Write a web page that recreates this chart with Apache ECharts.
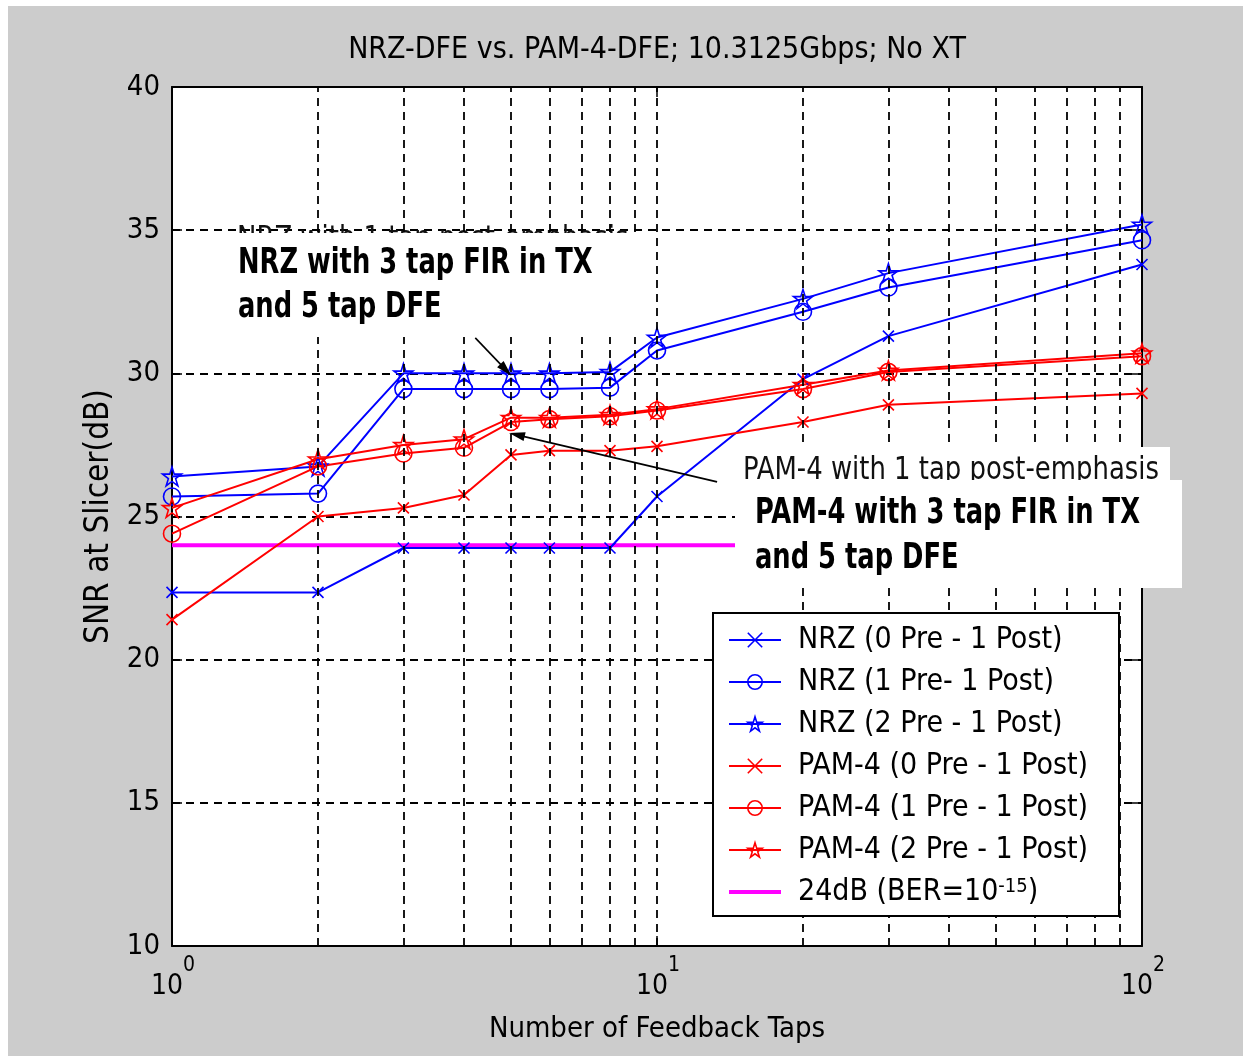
<!DOCTYPE html>
<html><head><meta charset="utf-8">
<script src="https://cdn.jsdelivr.net/npm/echarts@6/dist/echarts.min.js"></script>
<style>
html,body{margin:0;padding:0;background:#fff;}
#bg{position:absolute;left:8px;top:6px;width:1235px;height:1050px;background:#cccccc;}
#chart{position:absolute;left:0;top:0;width:1243px;height:1056px;}
</style></head><body>
<div id="bg"></div><div id="chart"></div>
<script>
// ---- data ----
const taps = [1, 2, 3, 4, 5, 6, 8, 10, 20, 30, 100];
const nrz0 = [22.35, 22.35, 23.9, 23.9, 23.9, 23.9, 23.9, 25.7, 29.8, 31.3, 33.8];
const nrz1 = [25.7, 25.8, 29.45, 29.45, 29.45, 29.45, 29.5, 30.8, 32.15, 33.0, 34.65];
const nrz2 = [26.4, 26.75, 30.0, 30.0, 30.0, 30.0, 30.05, 31.25, 32.6, 33.5, 35.2];
const pam0 = [21.4, 25.0, 25.3, 25.75, 27.15, 27.3, 27.3, 27.45, 28.3, 28.9, 29.3];
const pam1 = [24.4, 26.75, 27.2, 27.4, 28.3, 28.4, 28.5, 28.7, 29.45, 30.05, 30.6];
const pam2 = [25.3, 27.0, 27.5, 27.7, 28.45, 28.45, 28.55, 28.75, 29.6, 30.1, 30.7];
const berX = [1, 100];
const berY = [24, 24];
const seriesNames = ['NRZ (0 Pre - 1 Post)', 'NRZ (1 Pre- 1 Post)', 'NRZ (2 Pre - 1 Post)',
  'PAM-4 (0 Pre - 1 Post)', 'PAM-4 (1 Pre - 1 Post)', 'PAM-4 (2 Pre - 1 Post)', '24dB (BER=10-15)'];
const yTicks = [10, 15, 20, 25, 30, 35, 40];
const xTickBase = '10';
const xTickExponents = [0, 1, 2];
const xGridLines = [2, 3, 4, 5, 6, 7, 8, 9, 10, 20, 30, 40, 50, 60, 70, 80, 90];
const titleText = 'NRZ-DFE vs. PAM-4-DFE; 10.3125Gbps; No XT';
const xName = 'Number of Feedback Taps';
const yName = 'SNR at Slicer(dB)';
// annotation arrows in data coordinates [from, to]
const arrowNRZ = [[4.22, 31.24], [4.88, 30.12]];
const arrowPAM = [[13.3, 26.21], [5.14, 27.85]];

// ---- styles ----
const FONT = '"DejaVu Sans Condensed", "Liberation Sans Narrow", sans-serif';
const BLUE = '#0000ff', RED = '#ff0000', MAG = '#ff00ff';
const SYM_X = 'path://M0,0L10,10M0,10L10,0';
const SYM_STAR = 'path://M10,0L12.245,6.910L19.511,6.910L13.633,11.180L15.878,18.090L10,13.82L4.122,18.090L6.367,11.180L0.489,6.910L7.755,6.910Z';

function mk(name, ys, color, symbol, size) {
  return {
    name, type: 'line', data: taps.map((x, i) => [x, ys[i]]),
    symbol, symbolSize: size, clip: false, z: 3,
    lineStyle: { color, width: 2 },
    itemStyle: { color: 'rgba(0,0,0,0)', borderColor: color, borderWidth: 1.6 },
    emphasis: { disabled: true }
  };
}

const chart = echarts.init(document.getElementById('chart'));
const yMin = yTicks[0], yMax = yTicks[yTicks.length - 1], yStep = yTicks[1] - yTicks[0];
const xMin = Math.pow(10, xTickExponents[0]), xMax = Math.pow(10, xTickExponents[xTickExponents.length - 1]);
const gridDash = { color: '#000', type: [8, 6], width: 1.8 };
const frame = { show: true, lineStyle: { color: '#000', width: 2 } };
const tick = { show: true, inside: true, length: 10, lineStyle: { color: '#000', width: 1.5 } };

const option = {
  animation: false,
  title: {
    text: titleText, left: 657, top: 35, padding: 0, textAlign: 'center',
    textStyle: { fontFamily: FONT, fontSize: 30, fontWeight: 'normal', color: '#000' }
  },
  grid: { left: 172, top: 87, width: 970, height: 859, show: true, backgroundColor: '#fff', borderWidth: 0 },
  xAxis: [{
    type: 'log', logBase: 10, min: xMin, max: xMax,
    name: xName, nameLocation: 'middle', nameGap: 69,
    nameTextStyle: { fontFamily: FONT, fontSize: 29, color: '#000' },
    axisLine: frame, axisTick: tick, splitLine: { show: false },
    axisLabel: { margin: 27, padding: [0, 10, 0, 0], fontFamily: FONT, fontSize: 28, color: '#000', formatter: () => xTickBase }
  }, {
    type: 'log', logBase: 10, min: xMin, max: xMax, position: 'top',
    axisLine: frame, axisTick: tick, axisLabel: { show: false }, splitLine: { show: false }
  }, {
    type: 'log', logBase: 10, min: xMin, max: xMax, position: 'bottom',
    axisLine: { show: false }, axisTick: { show: false }, splitLine: { show: false },
    axisLabel: {
      margin: 9, align: 'left', padding: [0, 0, 0, 11], fontFamily: FONT, fontSize: 21, color: '#000',
      formatter: v => String(xTickExponents[xTickExponents.indexOf(Math.round(Math.log10(v)))])
    }
  }],
  yAxis: [{
    type: 'value', min: yMin, max: yMax, interval: yStep,
    name: yName, nameLocation: 'middle', nameGap: 53, nameRotate: 90,
    nameTextStyle: { fontFamily: FONT, fontSize: 33, color: '#000' },
    axisLine: frame, axisTick: tick,
    splitLine: { show: true, lineStyle: gridDash },
    axisLabel: { margin: 12, fontFamily: FONT, fontSize: 29, color: '#000' }
  }, {
    type: 'value', min: yMin, max: yMax, interval: yStep, position: 'right',
    axisLine: frame, axisTick: tick, axisLabel: { show: false }, splitLine: { show: false }
  }],
  legend: {
    orient: 'vertical', left: 728, top: 625, padding: 0, z: 10,
    itemWidth: 52, itemHeight: 18, itemGap: 12, selectedMode: false,
    lineStyle: { width: 2 },
    itemStyle: { borderWidth: 1.6 },
    textStyle: {
      fontFamily: FONT, fontSize: 30, color: '#000', lineHeight: 30, padding: [0, 0, 0, 12],
      rich: { sup: { fontFamily: FONT, fontSize: 20, color: '#000', lineHeight: 16, verticalAlign: 'top', padding: [0, 0, 12, 0] } }
    },
    formatter: n => n === seriesNames[6] ? '24dB (BER=10{sup|-15})' : n,
    data: seriesNames.slice(0, 6).map(n => ({ name: n })).concat([{
      name: seriesNames[6], icon: 'path://M0,0L52,0L52,4L0,4Z',
      itemStyle: { color: MAG, borderWidth: 0 }
    }])
  },
  series: [
    {
      type: 'line', data: [], z: 1, silent: true,
      markLine: {
        silent: true, symbol: 'none', label: { show: false }, animation: false,
        lineStyle: gridDash, emphasis: { disabled: true },
        data: xGridLines.map(v => ({ xAxis: v }))
      }
    },
    {
      name: seriesNames[6], type: 'line', data: berX.map((x, i) => [x, berY[i]]),
      symbol: 'none', z: 3, lineStyle: { color: MAG, width: 4 }, itemStyle: { color: MAG },
      emphasis: { disabled: true }
    },
    mk(seriesNames[0], nrz0, BLUE, SYM_X, 11),
    mk(seriesNames[1], nrz1, BLUE, 'circle', 17),
    mk(seriesNames[2], nrz2, BLUE, SYM_STAR, 19),
    mk(seriesNames[3], pam0, RED, SYM_X, 11),
    mk(seriesNames[4], pam1, RED, 'circle', 17),
    mk(seriesNames[5], pam2, RED, SYM_STAR, 19),
    {
      type: 'line', data: [], z: 4, silent: true,
      markLine: {
        silent: true, symbol: ['none', 'triangle'], symbolSize: [9, 16], label: { show: false },
        animation: false, emphasis: { disabled: true },
        lineStyle: { color: '#000', type: 'solid', width: 1.6 },
        data: [
          [{ coord: arrowNRZ[0] }, { coord: arrowNRZ[1] }],
          [{ coord: arrowPAM[0] }, { coord: arrowPAM[1] }]
        ]
      }
    }
  ],
  graphic: [
    { type: 'text', z: 5, x: 237, y: 240, scaleX: 0.9, style: { text: 'NRZ with 1 tap post-emphasis', x: 0, y: 0, verticalAlign: 'middle', fontFamily: FONT, fontSize: 32, fill: '#111' } },
    { type: 'rect', z: 6, shape: { x: 215, y: 233, width: 430, height: 104 }, style: { fill: '#fff' } },
    { type: 'text', z: 7, x: 238, y: 264, scaleX: 0.795, style: { text: 'NRZ with 3 tap FIR in TX', x: 0, y: 0, verticalAlign: 'middle', fontFamily: FONT, fontSize: 36, fontWeight: 'bold', fill: '#000' } },
    { type: 'text', z: 7, x: 238, y: 308, scaleX: 0.795, style: { text: 'and 5 tap DFE', x: 0, y: 0, verticalAlign: 'middle', fontFamily: FONT, fontSize: 36, fontWeight: 'bold', fill: '#000' } },
    { type: 'rect', z: 6, shape: { x: 733, y: 447, width: 437, height: 34 }, style: { fill: '#fff' } },
    { type: 'text', z: 7, x: 743, y: 471, scaleX: 0.9, style: { text: 'PAM-4 with 1 tap post-emphasis', x: 0, y: 0, verticalAlign: 'middle', fontFamily: FONT, fontSize: 32, fill: '#111' } },
    { type: 'rect', z: 8, shape: { x: 735, y: 480, width: 447, height: 108 }, style: { fill: '#fff' } },
    { type: 'text', z: 9, x: 755, y: 514, scaleX: 0.795, style: { text: 'PAM-4 with 3 tap FIR in TX', x: 0, y: 0, verticalAlign: 'middle', fontFamily: FONT, fontSize: 36, fontWeight: 'bold', fill: '#000' } },
    { type: 'text', z: 9, x: 755, y: 559, scaleX: 0.795, style: { text: 'and 5 tap DFE', x: 0, y: 0, verticalAlign: 'middle', fontFamily: FONT, fontSize: 36, fontWeight: 'bold', fill: '#000' } },
    { type: 'rect', z: 9, shape: { x: 713, y: 613, width: 406, height: 303 }, style: { fill: '#fff', stroke: '#000', lineWidth: 2 } }
  ]
};
chart.setOption(option);
</script>
</body></html>
